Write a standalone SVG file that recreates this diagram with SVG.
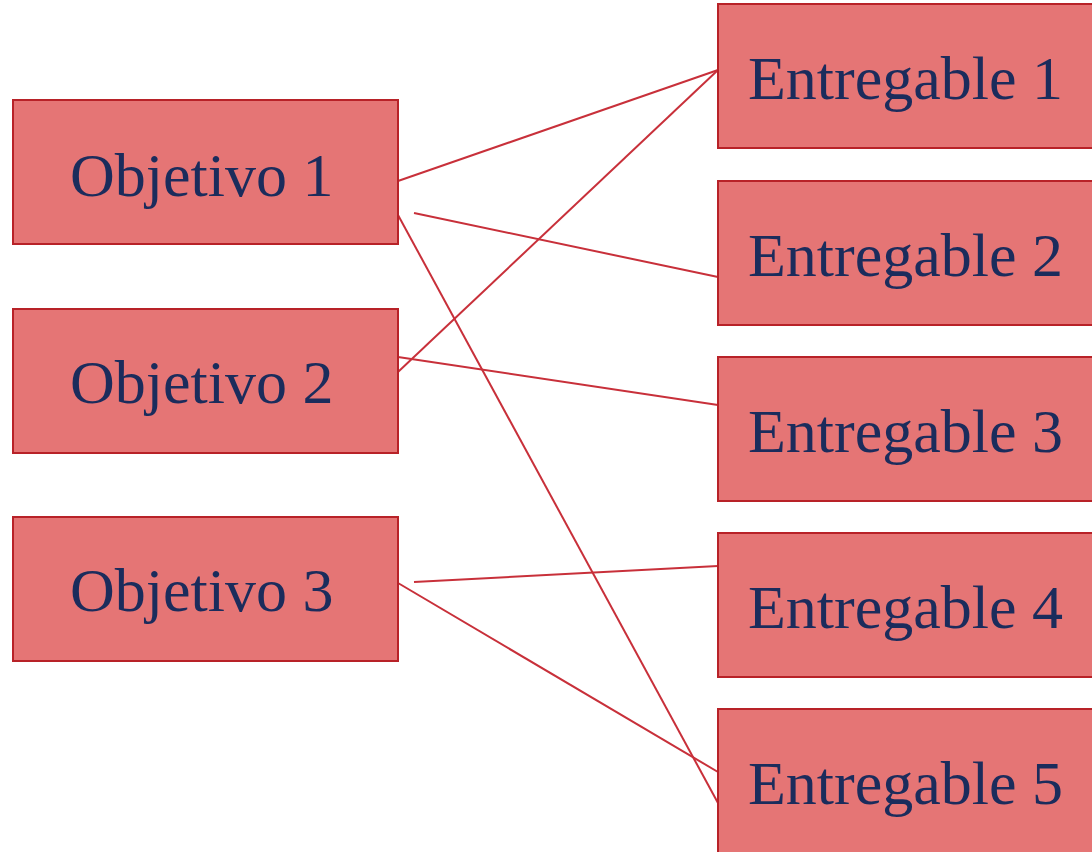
<svg xmlns="http://www.w3.org/2000/svg" width="1092" height="852" viewBox="0 0 1092 852">
<style>
.box{fill:#e57575;stroke:#b82228;stroke-width:2}
.lbl{font-family:"Liberation Serif","Times New Roman",serif;font-size:62px;fill:#1b2c5c}
.ln{stroke:#c8303a;stroke-width:2;fill:none}
</style>
<rect width="1092" height="852" fill="#ffffff"/>
<g id="connectors">
<line class="ln" x1="398" y1="181" x2="718" y2="70"/>
<line class="ln" x1="414" y1="213" x2="718" y2="277"/>
<line class="ln" x1="398" y1="372" x2="718" y2="70"/>
<line class="ln" x1="398" y1="357" x2="718" y2="405"/>
<line class="ln" x1="398" y1="215" x2="718" y2="803"/>
<line class="ln" x1="414" y1="582" x2="718" y2="566"/>
<line class="ln" x1="398" y1="583" x2="718" y2="772"/>
</g>
<g id="obj1"><rect class="box" x="13" y="100" width="385" height="144"/><text class="lbl" x="70" y="196">Objetivo 1</text></g>
<g id="obj2"><rect class="box" x="13" y="309" width="385" height="144"/><text class="lbl" x="70" y="403">Objetivo 2</text></g>
<g id="obj3"><rect class="box" x="13" y="517" width="385" height="144"/><text class="lbl" x="70" y="611">Objetivo 3</text></g>
<g id="ent1"><rect class="box" x="718" y="4" width="380" height="144"/><text class="lbl" x="748" y="99">Entregable 1</text></g>
<g id="ent2"><rect class="box" x="718" y="181" width="380" height="144"/><text class="lbl" x="748" y="276">Entregable 2</text></g>
<g id="ent3"><rect class="box" x="718" y="357" width="380" height="144"/><text class="lbl" x="748" y="452">Entregable 3</text></g>
<g id="ent4"><rect class="box" x="718" y="533" width="380" height="144"/><text class="lbl" x="748" y="628">Entregable 4</text></g>
<g id="ent5"><rect class="box" x="718" y="709" width="380" height="150"/><text class="lbl" x="748" y="804">Entregable 5</text></g>
</svg>
